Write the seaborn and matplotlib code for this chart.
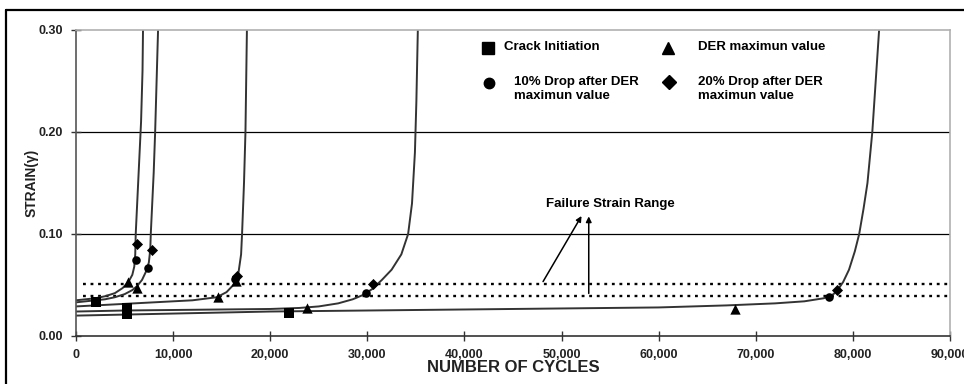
import matplotlib
matplotlib.use("Agg")
import matplotlib.pyplot as plt
from matplotlib.lines import Line2D
from matplotlib.ticker import FuncFormatter
import seaborn as sns
import pandas as pd

# ---------------- data ----------------
curve_a_x = [0, 1000, 2000, 3000, 4000, 4800, 5400, 5800, 6000, 6100, 6150, 6300, 6500, 6700, 6850, 6900]
curve_a_y = [0.035, 0.036, 0.037, 0.039, 0.042, 0.047, 0.053, 0.060, 0.068, 0.080, 0.100, 0.130, 0.170, 0.210, 0.260, 0.300]

curve_b_x = [0, 1000, 2000, 3000, 4000, 5000, 5800, 6300, 6800, 7200, 7500, 7650, 7700, 7850, 8000, 8150, 8300, 8450]
curve_b_y = [0.033, 0.034, 0.035, 0.036, 0.038, 0.041, 0.045, 0.049, 0.055, 0.063, 0.072, 0.085, 0.100, 0.130, 0.160, 0.200, 0.250, 0.300]

curve_c_x = [0, 4000, 8000, 12000, 14500, 15500, 16200, 16700, 17000, 17100, 17300, 17450, 17600]
curve_c_y = [0.029, 0.031, 0.033, 0.035, 0.038, 0.043, 0.050, 0.060, 0.080, 0.100, 0.150, 0.200, 0.300]

curve_d_x = [0, 5000, 10000, 15000, 20000, 23000, 25000, 27000, 28500, 29500, 30500, 31500, 32500, 33500, 34200, 34600, 34900, 35050, 35200]
curve_d_y = [0.024, 0.025, 0.0255, 0.026, 0.0265, 0.0275, 0.029, 0.032, 0.036, 0.040, 0.046, 0.055, 0.065, 0.080, 0.100, 0.130, 0.180, 0.230, 0.300]

curve_e_x = [0, 10000, 20000, 30000, 40000, 50000, 60000, 67000, 72000, 75000, 77000, 78000, 78500, 79000, 79600, 80200, 80650, 81100, 81500, 82000, 82350, 82700]
curve_e_y = [0.020, 0.022, 0.024, 0.025, 0.026, 0.027, 0.028, 0.030, 0.032, 0.034, 0.037, 0.041, 0.046, 0.053, 0.065, 0.083, 0.100, 0.125, 0.150, 0.200, 0.250, 0.300]

crack_x = [2060, 5250, 5250, 21950]
crack_y = [0.033, 0.027, 0.022, 0.0225]

der_max_x = [5380, 6250, 14650, 16500, 23800, 67900]
der_max_y = [0.053, 0.047, 0.038, 0.054, 0.027, 0.026]

drop10_x = [6180, 7420, 16400, 29870, 77550]
drop10_y = [0.075, 0.067, 0.056, 0.042, 0.038]

drop20_x = [6300, 7800, 16600, 30600, 78400]
drop20_y = [0.090, 0.084, 0.059, 0.051, 0.045]

failure_range = [0.051, 0.039]
x_ticks = [0, 10000, 20000, 30000, 40000, 50000, 60000, 70000, 80000, 90000]
y_ticks = [0.00, 0.10, 0.20, 0.30]

legend_labels = ["Crack Initiation", "DER maximun value",
                 "10% Drop after DER\nmaximun value", "20% Drop after DER\nmaximun value"]

# ---------------- plotting ----------------
sns.set_theme(style="white")
plt.rcParams["font.family"] = ["Liberation Sans", "DejaVu Sans"]
plt.rcParams["font.weight"] = "bold"

W, H = 964, 384
fig = plt.figure(figsize=(W / 100, H / 100), dpi=100)
L, R, T, B = 76, 950, 30, 336
ax = fig.add_axes([L / W, (H - B) / H, (R - L) / W, (B - T) / H])

def ax_xy(px, py):
    return ((px - L) / (R - L), (B - py) / (B - T))

frames = []
for name, xs, ys in [("A", curve_a_x, curve_a_y), ("B", curve_b_x, curve_b_y),
                     ("C", curve_c_x, curve_c_y), ("D", curve_d_x, curve_d_y),
                     ("E", curve_e_x, curve_e_y)]:
    frames.append(pd.DataFrame({"cycles": xs, "strain": ys, "specimen": name}))
curves = pd.concat(frames, ignore_index=True)

sns.lineplot(data=curves, x="cycles", y="strain", units="specimen", estimator=None,
             sort=False, color="#333333", linewidth=1.4, ax=ax, legend=False)

# failure strain range dotted lines
for yv in failure_range:
    ax.hlines(yv, 700, 90000, colors="black", linestyles=(0, (1.2, 2.0)), linewidth=1.7, zorder=1)

# gridlines
for yv in [0.10, 0.20]:
    ax.axhline(yv, color="black", linewidth=0.9, zorder=0)

mk = dict(color="black", edgecolor="black", linewidth=0, ax=ax, zorder=5)
sns.scatterplot(x=crack_x, y=crack_y, marker="s", s=50, **mk)
sns.scatterplot(x=der_max_x, y=der_max_y, marker="^", s=55, **mk)
sns.scatterplot(x=drop10_x, y=drop10_y, marker="o", s=38, **mk)
sns.scatterplot(x=drop20_x, y=drop20_y, marker="D", s=32, **mk)

# arrows
ax.annotate("", xy=(52200, 0.120), xytext=(47950, failure_range[0]),
            arrowprops=dict(arrowstyle="-|>", color="black", lw=1.1, mutation_scale=8))
ax.annotate("", xy=(52800, 0.120), xytext=(52800, failure_range[1]),
            arrowprops=dict(arrowstyle="-|>", color="black", lw=1.1, mutation_scale=8))
ax.text(48400, 0.1295, "Failure Strain Range", fontsize=9.5, fontweight="bold",
        ha="left", va="center", color="black")

# legend (keys + texts placed in axes coordinates)
key_specs = [("s", 8, (488, 48)), ("^", 9, (668, 48)), ("o", 7.5, (489, 83)), ("D", 7, (669, 82))]
text_pos = [(504, 47), (698, 47), (514, 76), (698, 76)]
for (m, ms, (px, py)), lab, (tx, ty) in zip(key_specs, legend_labels, text_pos):
    kx, ky = ax_xy(px, py)
    ax.add_line(Line2D([kx], [ky], marker=m, markersize=ms, color="black", linestyle="none",
                       transform=ax.transAxes, clip_on=False))
    x0, y0 = ax_xy(tx, ty)
    ax.text(x0, y0, lab, transform=ax.transAxes, fontsize=9.5, fontweight="bold",
            ha="left", va="center" if "\n" not in lab else "top", linespacing=1.25,
            color="black")

# axes styling
ax.set_xlim(0, 90000)
ax.set_ylim(0, 0.30)
ax.set_xticks(x_ticks)
ax.set_yticks(y_ticks)
ax.xaxis.set_major_formatter(FuncFormatter(lambda v, p: f"{int(v):,}"))
ax.yaxis.set_major_formatter(FuncFormatter(lambda v, p: f"{v:.2f}"))
ax.tick_params(axis="both", direction="inout", length=7, width=1, color="#333333",
               labelsize=9, labelcolor="#222222", pad=6, left=True, bottom=True)
for lab in ax.get_xticklabels() + ax.get_yticklabels():
    lab.set_fontweight("bold")

ax.set_xlabel("NUMBER OF CYCLES", fontsize=12, fontweight="bold", color="#222222", labelpad=-1)
ax.set_ylabel("STRAIN(γ)", fontsize=10, fontweight="bold", color="#222222", labelpad=0)

ax.spines["top"].set_color("#b0b0b0")
ax.spines["right"].set_color("#b0b0b0")
ax.spines["left"].set_color("#555555")
ax.spines["bottom"].set_color("#333333")
for s in ax.spines.values():
    s.set_linewidth(1.2)

# outer frame of the figure crop
fig.add_artist(Line2D([6 / W, 6 / W], [0, 374 / H], color="black", lw=1.6,
                      transform=fig.transFigure))
fig.add_artist(Line2D([6 / W, 1], [374 / H, 374 / H], color="black", lw=1.6,
                      transform=fig.transFigure))

fig.savefig("out.png", dpi=100, facecolor="white")
